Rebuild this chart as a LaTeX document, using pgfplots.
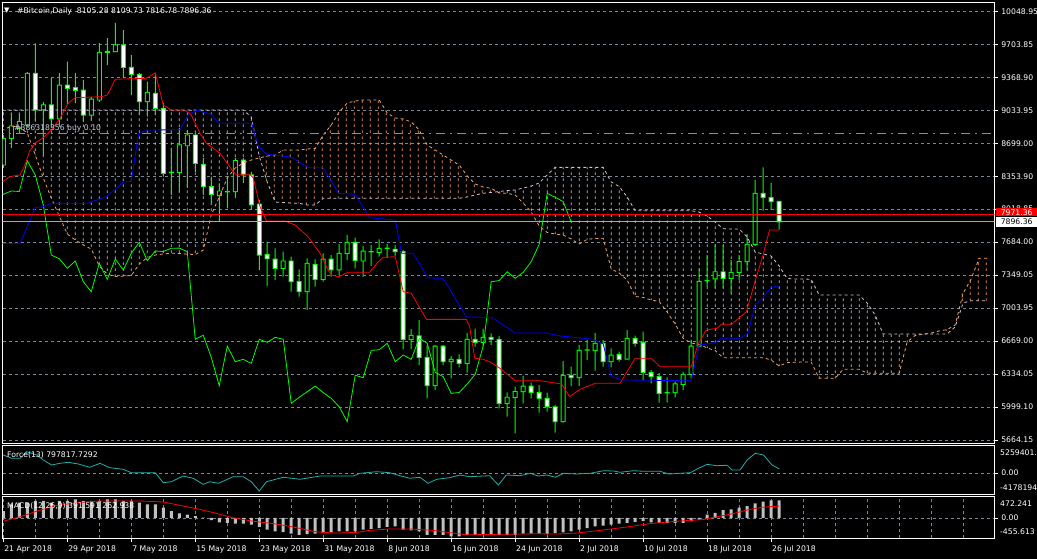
\documentclass[border=0pt]{standalone}
\usepackage{pgfplots}
\pgfplotsset{compat=1.18}
\usetikzlibrary{patterns}
\usepackage{pgfplotstable}
\usepackage{fontspec}
\setmainfont{DejaVu Sans}
\definecolor{gridc}{RGB}{119,136,153}
\definecolor{limeg}{RGB}{0,255,0}
\definecolor{thistlec}{RGB}{216,191,216}
\definecolor{sandyc}{RGB}{244,164,96}
\definecolor{forcec}{RGB}{32,178,170}
\definecolor{silverc}{RGB}{192,192,192}
\definecolor{bidc}{RGB}{160,168,176}
\definecolor{orderc}{RGB}{50,205,50}
\definecolor{ordtext}{RGB}{200,205,225}
\newcommand{\mtfont}{\fontsize{7.7}{9}\selectfont}
\pgfdeclarepatternformonly{mthatch}{\pgfqpoint{0pt}{0pt}}{\pgfqpoint{7.9984pt}{6pt}}{\pgfqpoint{7.9984pt}{6pt}}{%
  \pgfsetlinewidth{0.8pt}\pgfpathmoveto{\pgfqpoint{3.3pt}{0pt}}\pgfpathlineto{\pgfqpoint{3.3pt}{3pt}}\pgfusepath{stroke}}

\pgfplotstableread{
x o h l c
0 8477 8784 8446 8750
1 8750 9009 8651 8876
2 8852 9000 8800 8920
3 8886 9428 8866 9415
4 9415 9722 8920 9040
5 9040 9122 8579 9091
6 9091 9367 8856 8948
7 8948 9418 8866 9295
8 9295 9534 9091 9262
9 9268 9418 9111 9241
10 9244 9347 8917 8988
11 8988 9173 8937 9152
12 9142 9725 9122 9630
13 9630 9776 9500 9640
14 9636 9930 9633 9705
15 9705 9858 9367 9476
16 9476 9602 9193 9405
17 9405 9418 8988 9125
18 9125 9329 8971 9221
19 9210 9418 8988 9057
20 9057 9111 8357 8392
21 8400 8651 8170 8404
22 8402 8856 8201 8682
23 8674 8835 8242 8784
24 8784 8804 8405 8494
25 8484 8549 8170 8255
26 8255 8357 8085 8177
27 8163 8290 7897 8211
28 8202 8357 8034 8206
29 8204 8549 8139 8521
30 8528 8549 8293 8375
31 8375 8408 8017 8068
32 8078 8119 7403 7556
33 7563 7692 7239 7518
34 7515 7625 7301 7420
35 7420 7590 7334 7495
36 7495 7539 7181 7283
37 7283 7410 7130 7181
38 7181 7523 6994 7471
39 7461 7512 7232 7308
40 7308 7574 7283 7515
41 7515 7556 7334 7403
42 7403 7669 7352 7574
43 7574 7761 7505 7686
44 7686 7733 7420 7498
45 7495 7648 7334 7597
46 7588 7659 7444 7592
47 7584 7717 7539 7625
48 7623 7669 7526 7627
49 7615 7659 7546 7590
50 7590 7607 6592 6694
51 6694 6799 6592 6735
52 6728 6891 6431 6510
53 6510 6636 6090 6219
54 6219 6636 6175 6625
55 6625 6636 6431 6465
56 6465 6523 6295 6489
57 6489 6540 6408 6448
58 6448 6758 6352 6694
59 6694 6802 6618 6663
60 6663 6802 6618 6714
61 6714 6755 6636 6694
62 6694 6728 5988 6039
63 6039 6152 5902 6101
64 6101 6209 5732 6158
65 6158 6322 6039 6216
66 6216 6250 6090 6148
67 6148 6226 5943 6090
68 6090 6148 5953 6004
69 6004 6022 5738 5851
70 5851 6472 5841 6326
71 6326 6414 6216 6301
72 6301 6636 6216 6581
73 6583 6687 6482 6587
74 6577 6758 6373 6653
75 6653 6687 6414 6465
76 6465 6602 6408 6533
77 6540 6567 6465 6489
78 6492 6789 6489 6704
79 6704 6731 6618 6653
80 6663 6772 6278 6356
81 6356 6380 6244 6311
82 6311 6349 6045 6141
83 6146 6305 6045 6150
84 6148 6260 6101 6237
85 6233 6363 6175 6336
86 6336 6687 6295 6625
87 6625 7420 6618 7283
88 7291 7556 7232 7295
89 7311 7666 7216 7385
90 7385 7659 7216 7318
91 7318 7505 7165 7379
92 7379 7556 7301 7488
93 7488 7771 7403 7666
94 7666 8324 7648 8187
95 8187 8453 8010 8147
96 8143 8296 8017 8102
97 8105.28 8109.73 7816.78 7896.36
}\candles

\pgfplotstableread{
x A B
-1 8835 9040
0 8835 9040
1 8876 9040
2 8866 9040
3 8804 9040
4 8579 9040
5 8344 9040
6 8139 9040
7 7955 9040
8 7771 9040
9 7710 9040
10 7659 9040
11 7618 9040
12 7444 9040
13 7362 9040
14 7334 9040
15 7341 9040
16 7347 9040
17 7464 9040
18 7531 9040
19 7556 9040
20 7567 9040
21 7574 9040
22 7572 9040
23 7565 9040
24 7561 9040
25 7607 9040
26 7966 9040
27 8150 9040
28 8344 9040
29 8446 9040
30 8497 9040
31 8528 8968
32 8549 8569
33 8569 8303
34 8579 8098
35 8630 8093
36 8630 8088
37 8630 8085
38 8641 8068
39 8646 8068
40 8784 8136
41 8886 8136
42 9019 8136
43 9111 8136
44 9132 8136
45 9142 8136
46 9142 8136
47 9142 8136
48 9009 8136
49 8958 8136
50 8948 8136
51 8917 8136
52 8835 8136
53 8682 8136
54 8630 8136
55 8579 8136
56 8528 8136
57 8477 8136
58 8365 8150
59 8283 8170
60 8252 8188
61 8239 8196
62 8191 8206
63 8188 8216
64 8170 8221
65 8088 8242
66 7996 8262
67 7853 8293
68 7787 8375
69 7771 8453
70 7761 8453
71 7720 8453
72 7669 8453
73 7717 8453
74 7725 8453
75 7727 8453
76 7413 8303
77 7372 8257
78 7301 8150
79 7132 8009
80 7122 8009
81 7096 8009
82 7081 8009
83 6973 8009
84 6850 8009
85 6704 8009
86 6656 8009
87 6641 7996
88 6605 7955
89 6579 7894
90 6506 7825
91 6506 7822
92 6506 7822
93 6506 7741
94 6506 7587
95 6506 7567
96 6482 7546
97 6421 7444
98 6455 7316
99 6459 7311
100 6462 7311
101 6462 7308
102 6295 7147
103 6295 7147
104 6295 7147
105 6387 7147
106 6387 7147
107 6387 7147
108 6349 7065
109 6346 6943
110 6346 6748
111 6346 6748
112 6346 6748
113 6666 6748
114 6733 6748
115 6745 6748
116 6758 6748
117 6779 6748
118 6794 6748
119 6840 6820
120 7164 7065
121 7311 7089
122 7523 7089
123 7523 7089
}\cloud

\pgfplotstableread{
x v
-1 8255
0 8177
1 8211
2 8206
3 8521
4 8375
5 8068
6 7556
7 7518
8 7420
9 7495
10 7283
11 7181
12 7471
13 7308
14 7515
15 7403
16 7574
17 7686
18 7498
19 7597
20 7592
21 7625
22 7627
23 7590
24 6694
25 6735
26 6510
27 6219
28 6625
29 6465
30 6489
31 6448
32 6694
33 6663
34 6714
35 6694
36 6039
37 6101
38 6158
39 6216
40 6148
41 6090
42 6004
43 5851
44 6326
45 6301
46 6581
47 6587
48 6653
49 6465
50 6533
51 6489
52 6704
53 6653
54 6356
55 6311
56 6141
57 6150
58 6237
59 6336
60 6625
61 7283
62 7295
63 7385
64 7318
65 7379
66 7488
67 7666
68 8187
69 8147
70 8102
71 7896
}\chikou

\pgfplotstableread{
x v
0 3420000
1.05 2793000
2.1 2793000
2.9 4047000
4.2 3420000
5 2470000
6.05 1520000
7.1 1843000
8.1 2033000
9.4 1710000
10.8 1083000
12.1 1843000
13.3 1007000
15 703000
16 57000
19 57000
20 -1843000
21 -1653000
22.5 -570000
23.75 -1007000
25 -2147000
25.8 -1653000
26.9 -1957000
28.75 -703000
30 -703000
31 -1653000
32 -3420000
32.9 -1653000
35 -817000
37.1 -1197000
39.6 -570000
43.75 -570000
44.6 -57000
46.7 247000
48.3 57000
49.6 -513000
50.8 -1007000
52.1 -817000
53.1 -1957000
54.2 -1197000
55.8 -893000
57.1 -380000
58.3 -703000
60.8 -513000
61.9 -2280000
62.9 -380000
64.6 -513000
65.9 -57000
66.9 -570000
68 -380000
69 -817000
70.05 -57000
71.7 -190000
73.4 -57000
75.05 437000
76.3 380000
77.1 133000
78.8 437000
80.05 323000
82.1 323000
83.2 -190000
84.6 -57000
85.9 57000
86.9 893000
88 1653000
89.2 1387000
90.5 1463000
91.1 570000
92.1 570000
93 2470000
94 3743000
95.05 3420000
96.1 1520000
97 797818
}\force

\pgfplotstableread{
x v
0 150
1 301
2 339
3 339
4 377
5 377
6 339
7 377
8 377
9 414
10 377
11 377
12 377
13 414
14 414
15 377
16 377
17 339
18 301
19 301
20 226
21 151
22 98
23 75
24 38
25 8
26 -53
27 -98
28 -113
29 -128
30 -128
31 -151
32 -203
33 -264
34 -301
35 -316
36 -354
37 -377
38 -362
39 -354
40 -339
41 -324
42 -301
43 -301
44 -301
45 -264
46 -248
47 -226
48 -203
49 -188
50 -264
51 -279
52 -301
53 -377
54 -377
55 -377
56 -414
57 -414
58 -377
59 -377
60 -377
61 -377
62 -377
63 -377
64 -377
65 -354
66 -354
67 -354
68 -362
69 -339
70 -324
71 -301
72 -264
73 -226
74 -188
75 -173
76 -151
77 -128
78 -113
79 -90
80 -75
81 -98
82 -113
83 -113
84 -113
85 -113
86 -75
87 -38
88 75
89 113
90 173
91 188
92 226
93 264
94 324
95 361
96 392
97 392
}\macdh

\pgfplotsset{
  mt/.style={
    scale only axis, width=991.6pt,
    xmin=-0.075, xmax=123.9,
    axis line style={white, line width=0.9pt},
    minor xtick={0,4,...,120}, xminorgrids,
    minor grid style={gridc, dash pattern=on 3pt off 3pt, line width=0.7pt},
    major grid style={gridc, dash pattern=on 3pt off 3pt, line width=0.7pt},
    minor tick length=0pt, major tick length=3.5pt,
    tick align=outside,
    tick style={white, line width=0.7pt},
    tick label style={font=\mtfont, text=white},
    ytick pos=right, yticklabel pos=right,
    scaled ticks=false,
  },
  ov/.style={
    scale only axis, width=991.6pt, height=440.6pt,
    at={(2.7pt,-2.7pt)}, anchor=north west,
    xmin=-0.075, xmax=123.9, ymin=5630, ymax=10137.4,
    hide axis, enlargelimits=false,
  },
}

\begin{document}
\begin{tikzpicture}
\path[use as bounding box] (0,0) rectangle (1037pt,-559pt);
\fill[black] (0,0) rectangle (1037pt,-559pt);

% ---------------- main chart: grid and ticks ----------------
\begin{axis}[mt, at={(2.7pt,-2.7pt)}, anchor=north west, height=440.6pt,
  ymin=5630, ymax=10137.4, xtick=\empty,
  ytick={10048.95,9711.66,9374.37,9037.08,8699.79,8362.50,8025.21,7687.92,7350.63,7013.34,6676.05,6338.76,6001.47,5664.15},
  yticklabels={10048.95,9703.85,9368.90,9033.95,8699.00,8353.90,8018.85,7684.00,7349.05,7003.95,6669.00,6334.05,5999.10,5664.15},
  ymajorgrids]
\addplot[draw=none] coordinates {(0,7000) (1,7000)};
\end{axis}

% ---------------- cloud hatch: thistle where span B is above span A ----------------
\begin{axis}[ov, ybar stacked]
\addplot[draw=none, fill=none, bar width=7.9984pt] table[x=x, y expr={(\thisrow{B}>\thisrow{A})*\thisrow{A}}] {\cloud};
\addplot[draw=none, pattern=mthatch, pattern color=thistlec, bar width=7.9984pt] table[x=x, y expr={(\thisrow{B}>\thisrow{A})*(\thisrow{B}-\thisrow{A})}] {\cloud};
\end{axis}
% ---------------- cloud hatch: sandy brown where span A is above span B ----------------
\begin{axis}[ov, ybar stacked]
\addplot[draw=none, fill=none, bar width=7.9984pt] table[x=x, y expr={(\thisrow{A}>\thisrow{B})*\thisrow{B}}] {\cloud};
\addplot[draw=none, pattern=mthatch, pattern color=sandyc, bar width=7.9984pt] table[x=x, y expr={(\thisrow{A}>\thisrow{B})*(\thisrow{A}-\thisrow{B})}] {\cloud};
\end{axis}

% ---------------- candle wicks (filled thin bars) ----------------
\begin{axis}[ov, ybar stacked]
\addplot[draw=none, fill=none, bar width=1pt] table[x=x, y=l] {\candles};
\addplot[draw=none, fill=limeg, bar width=1pt] table[x=x, y expr={\thisrow{h}-\thisrow{l}}] {\candles};
\end{axis}
% ---------------- body outlines (green) ----------------
\begin{axis}[ov, ybar stacked]
\addplot[draw=none, fill=none, bar width=5pt] table[x=x, y expr={min(\thisrow{o},\thisrow{c})-5}] {\candles};
\addplot[draw=none, fill=limeg, bar width=5pt] table[x=x, y expr={abs(\thisrow{c}-\thisrow{o})+10}] {\candles};
\end{axis}
% ---------------- bull bodies (black inside) ----------------
\begin{axis}[ov, ybar stacked]
\addplot[draw=none, fill=none, bar width=3pt] table[x=x, y expr={(\thisrow{c}>\thisrow{o})*(\thisrow{o}+5)}] {\candles};
\addplot[draw=none, fill=black, bar width=3pt] table[x=x, y expr={(\thisrow{c}>\thisrow{o})*max(\thisrow{c}-\thisrow{o}-10,0)}] {\candles};
\end{axis}
% ---------------- bear bodies (white inside) ----------------
\begin{axis}[ov, ybar stacked]
\addplot[draw=none, fill=none, bar width=3pt] table[x=x, y expr={(\thisrow{c}<=\thisrow{o})*(\thisrow{c}+5)}] {\candles};
\addplot[draw=none, fill=white, bar width=3pt] table[x=x, y expr={(\thisrow{c}<=\thisrow{o})*max(\thisrow{o}-\thisrow{c}-10,0)}] {\candles};
\end{axis}

% ---------------- indicator lines ----------------
\begin{axis}[ov]
\addplot[thistlec, line width=0.8pt, dash pattern=on 3pt off 3pt] table[x=x, y=B] {\cloud};
\addplot[sandyc, line width=0.8pt, dash pattern=on 3pt off 3pt] table[x=x, y=A] {\cloud};
\addplot[orderc, line width=0.8pt, dash pattern=on 9pt off 5pt on 2pt off 5pt] coordinates {(-1,8801) (125,8801)};
\addplot[limeg, line width=0.8pt] table[x=x, y=v] {\chikou};
\addplot[red, line width=0.8pt] coordinates {(-1,8306) (-0.1,8306) (0.84,8359) (2.1,8375) (2.7,8477) (3.3,8620) (4,8702) (5,8758) (5.8,8818) (7.1,8955) (8.1,9108) (9,9166) (12.3,9176) (13,9193) (14,9354) (17.9,9364) (19,9421) (20,9091) (21,9040) (22.7,9040) (23.5,8989) (24.6,8801) (25.4,8699) (27.1,8597) (28.3,8460) (29,8382) (30.8,8382) (31.25,8347) (32.1,8050) (32.9,7904) (35.2,7904) (36.5,7863) (38.1,7744) (39.6,7574) (40.6,7403) (41,7352) (41.9,7334) (43.1,7379) (45.8,7379) (46.9,7488) (47.5,7533) (49,7539) (50,7181) (51,7165) (52.9,6898) (57.9,6898) (58.3,6823) (58.95,6500) (60,6489) (60.8,6465) (62.1,6397) (64,6270) (67.1,6270) (69.8,6237) (70.8,6107) (72.1,6182) (74,6244) (77.1,6244) (79,6500) (81,6500) (82.1,6414) (86,6414) (86.9,6653) (87.9,6789) (89.2,6806) (89.8,6847) (91.05,6847) (92.9,6976) (94,7290) (95,7560) (95.8,7812) (97,7812)};
\addplot[blue, line width=0.8pt] coordinates {(-1,7674) (-0.1,7674) (2.1,7676) (4,8042) (5,8050) (6.05,8085) (10.5,8085) (12.9,8153) (15,8303) (16,8310) (16.9,8794) (17.9,8835) (22.1,8838) (23.1,8989) (24.2,9037) (26.05,8996) (26.9,8904) (31.05,8904) (31.9,8664) (32.9,8590) (36.05,8556) (38.1,8449) (40,8449) (41.9,8187) (44,8177) (45.8,7938) (49,7914) (49.8,7574) (51.25,7574) (53.1,7321) (55,7318) (57.9,6922) (61.05,6919) (64,6758) (67.9,6758) (69.6,6728) (73.75,6694) (75,6646) (76,6318) (77.2,6278) (86,6270) (87,6636) (88.95,6659) (89.8,6704) (92.1,6704) (93.1,6755) (94,7045) (95,7124) (96.05,7232) (97,7232)};
\addplot[bidc, line width=0.8pt] coordinates {(-1,7896.36) (125,7896.36)};
\addplot[red, line width=0.8pt] coordinates {(-1,7971.36) (125,7971.36)};
\end{axis}

% ---------------- Force ----------------
\begin{axis}[mt, at={(2.7pt,-445pt)}, anchor=north west, height=49.3pt,
  ymin=-4047000, ymax=5320000, xtick=\empty, ytick={0}, yticklabels={0.00}, ymajorgrids]
\addplot[forcec, line width=0.8pt] table[x=x, y=v] {\force};
\end{axis}

% ---------------- MACD ----------------
\begin{axis}[mt, at={(2.7pt,-496.7pt)}, anchor=north west, height=41.6pt,
  ymin=-455.613, ymax=472.241, ytick={0}, yticklabels={0.00}, ymajorgrids,
  xtick={0,8,...,96}, xtick pos=bottom,
  xticklabels={21 Apr 2018,29 Apr 2018,7 May 2018,15 May 2018,23 May 2018,31 May 2018,8 Jun 2018,16 Jun 2018,24 Jun 2018,2 Jul 2018,10 Jul 2018,18 Jul 2018,26 Jul 2018},
  xticklabel style={anchor=north west, xshift=-2.5pt}]
\addplot[ybar, bar width=3pt, fill=silverc, draw=none] table[x=x, y=v] {\macdh};
\addplot[red, line width=0.8pt] coordinates {(0,-75) (2.1,23) (4.2,151) (6.25,264) (9.2,339) (12.1,377) (17.1,377) (20,354) (22.5,264) (24.6,188) (26.7,98) (28.75,0) (31.25,-75) (33.75,-128) (36.25,-203) (38.75,-301) (40,-324) (41.7,-339) (44.2,-324) (45.8,-279) (48.3,-248) (50.8,-248) (53.75,-279) (56.25,-339) (57.9,-377) (61.25,-369) (64.2,-361) (66.7,-354) (69.2,-361) (71.7,-339) (74.6,-279) (78,-203) (80.8,-128) (84.2,-75) (87.5,-38) (89.2,23) (91.3,98) (93.3,188) (95.1,241) (97,263)};
\end{axis}

% ---------------- texts ----------------
\node[anchor=west, text=white, font=\fontsize{7}{8}\selectfont, inner sep=0pt] at (4pt,-11pt) {▼};
\node[anchor=west, text=white, font=\mtfont, inner sep=0pt] at (17pt,-11.5pt) {\#Bitcoin,Daily\ \ 8105.28 8109.73 7816.78 7896.36};
\node[anchor=west, text=ordtext, font=\mtfont, inner sep=0pt] at (14pt,-128pt) {\#386318356 buy 0.10};
\node[anchor=west, text=white, font=\mtfont, inner sep=0pt] at (7pt,-455pt) {Force(13) 797817.7292};
\node[anchor=west, text=white, font=\mtfont, inner sep=0pt] at (7pt,-506pt) {MACD(12,26,9) 391.591 262.938};
\node[anchor=west, text=white, font=\mtfont, inner sep=0pt] at (1000pt,-453pt) {5259401.4};
\node[anchor=west, text=white, font=\mtfont, inner sep=0pt] at (1000pt,-488pt) {-4178194};
\node[anchor=west, text=white, font=\mtfont, inner sep=0pt] at (1000pt,-503.3pt) {472.241};
\node[anchor=west, text=white, font=\mtfont, inner sep=0pt] at (1000pt,-531.7pt) {-455.613};
\node[anchor=west, fill=red, text=white, font=\mtfont, inner xsep=4pt, inner ysep=1pt, minimum width=41pt, minimum height=7pt] at (996pt,-212.3pt) {7971.36};
\node[anchor=west, fill=white, text=black, font=\mtfont, inner xsep=4pt, inner ysep=1pt, minimum width=41pt, minimum height=10pt] at (996pt,-221.8pt) {7896.36};
\end{tikzpicture}
\end{document}
